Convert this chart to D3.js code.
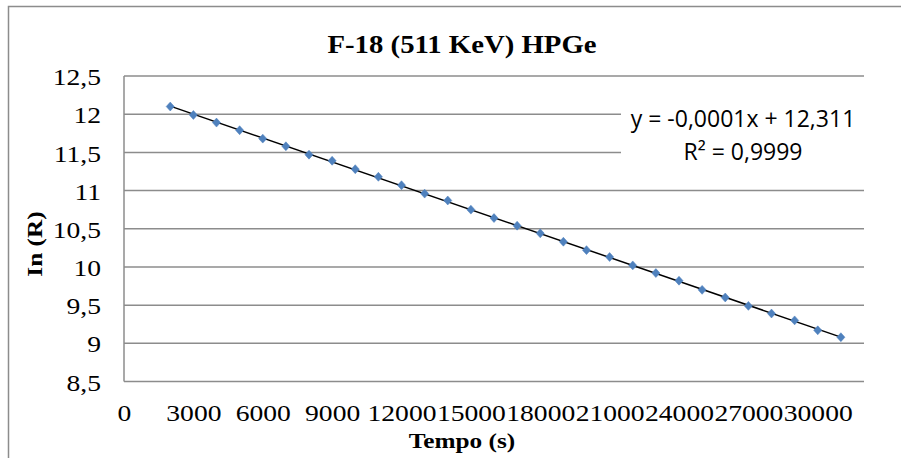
<!DOCTYPE html>
<html>
<head>
<meta charset="utf-8">
<script src="https://cdn.jsdelivr.net/npm/d3@7"></script>
<style>
  body { margin: 0; background: #fff; }
  svg { display: block; }
</style>
</head>
<body>
<svg id="chart"></svg>
<script>
// time (s) and ln of the count rate
const tempo = [2000, 3000, 4000, 5000, 6000, 7000, 8000, 9000, 10000, 11000,
  12000, 13000, 14000, 15000, 16000, 17000, 18000, 19000, 20000, 21000,
  22000, 23000, 24000, 25000, 26000, 27000, 28000, 29000, 30000, 31000];
const lnR = [12.10, 11.99, 11.89, 11.79, 11.68, 11.58, 11.47, 11.39, 11.28, 11.18,
  11.07, 10.96, 10.87, 10.75, 10.64, 10.54, 10.44, 10.33, 10.22, 10.13,
  10.02, 9.92, 9.82, 9.70, 9.60, 9.49, 9.39, 9.30, 9.17, 9.08];
const xTicks = [0, 3000, 6000, 9000, 12000, 15000, 18000, 21000, 24000, 27000, 30000];
const yTicks = [8.5, 9, 9.5, 10, 10.5, 11, 11.5, 12, 12.5];
const eqLines = ['y = -0,0001x + 12,311', 'R² = 0,9999'];

const W = 901, H = 458;
const plot = { left: 124, top: 76, right: 864, bottom: 381.5 };
const serif = '"Liberation Serif", "Times New Roman", serif';
const stretch = 1.15;

const svg = d3.select('#chart').attr('width', W).attr('height', H);

const x = d3.scaleLinear().domain([0, 32000]).range([plot.left, plot.right]);
const y = d3.scaleLinear().domain([8.5, 12.5]).range([plot.bottom, plot.top]);

const comma = d => String(d).replace('.', ',');

// outer chart frame
svg.append('rect')
  .attr('x', 8.5).attr('y', 6.5)
  .attr('width', W).attr('height', H)
  .attr('fill', 'none').attr('stroke', '#8c8c8c').attr('stroke-width', 1.5);

// gridlines
svg.append('g')
  .selectAll('line')
  .data(yTicks)
  .enter().append('line')
  .attr('x1', plot.left).attr('x2', plot.right)
  .attr('y1', d => y(d)).attr('y2', d => y(d))
  .attr('stroke', '#8c8c8c').attr('stroke-width', 1.5);

svg.append('line')
  .attr('x1', plot.left).attr('x2', plot.left)
  .attr('y1', plot.top).attr('y2', plot.bottom)
  .attr('stroke', '#8c8c8c').attr('stroke-width', 1.5);

// y axis
const yAxis = svg.append('g')
  .attr('transform', `translate(${plot.left},0)`)
  .call(d3.axisLeft(y).tickValues(yTicks).tickSize(0).tickPadding(23).tickFormat(comma));
yAxis.select('.domain').remove();
yAxis.selectAll('text')
  .attr('font-family', serif).attr('font-size', 24).attr('fill', '#000')
  .attr('transform', `scale(${stretch},1)`)
  .attr('x', -23 / stretch)
  .attr('dy', '0.36em');

// x axis
const xAxis = svg.append('g')
  .attr('transform', `translate(0,${plot.bottom})`)
  .call(d3.axisBottom(x).tickValues(xTicks).tickSize(0).tickPadding(22).tickFormat(d => d));
xAxis.select('.domain').remove();
xAxis.selectAll('.tick text')
  .attr('font-family', serif).attr('font-size', 24).attr('fill', '#000')
  .attr('transform', `scale(${stretch},1)`);

// trendline from least squares on the data
const n = tempo.length;
const mx = d3.mean(tempo), my = d3.mean(lnR);
const slope = d3.sum(tempo, (t, i) => (t - mx) * (lnR[i] - my)) / d3.sum(tempo, t => (t - mx) ** 2);
const icpt = my - slope * mx;
const x0 = tempo[0], x1 = tempo[n - 1];
svg.append('line')
  .attr('x1', x(x0)).attr('y1', y(icpt + slope * x0))
  .attr('x2', x(x1)).attr('y2', y(icpt + slope * x1))
  .attr('stroke', '#000').attr('stroke-width', 1.5);

// markers
svg.append('g')
  .selectAll('path')
  .data(tempo)
  .enter().append('path')
  .attr('d', d3.symbol(d3.symbolDiamond2, 42))
  .attr('transform', (d, i) => `translate(${x(d)},${y(lnR[i])}) scale(1,1.1)`)
  .attr('fill', '#4f81bd')
  .attr('stroke', '#4f81bd').attr('stroke-width', 0.5);

// equation label
const eq = svg.append('g');
eq.append('rect')
  .attr('x', 621).attr('y', 100).attr('width', 280).attr('height', 70)
  .attr('fill', '#fff');
eq.selectAll('text')
  .data(eqLines)
  .enter().append('text')
  .attr('x', 743).attr('y', (d, i) => 127 + i * 33)
  .attr('text-anchor', 'middle')
  .attr('font-family', '"Open Sans", sans-serif')
  .attr('font-size', 23)
  .attr('fill', '#000')
  .text(d => d);

// titles
svg.append('text')
  .attr('transform', `translate(462,53) scale(${stretch},1)`)
  .attr('text-anchor', 'middle')
  .attr('font-family', serif).attr('font-weight', 'bold').attr('font-size', 25)
  .text('F-18 (511 KeV) HPGe');

svg.append('text')
  .attr('transform', `translate(462,448) scale(${stretch},1)`)
  .attr('text-anchor', 'middle')
  .attr('font-family', serif).attr('font-weight', 'bold').attr('font-size', 22)
  .text('Tempo (s)');

svg.append('text')
  .attr('transform', `translate(42,244) rotate(-90) scale(${stretch},1)`)
  .attr('text-anchor', 'middle')
  .attr('font-family', serif).attr('font-weight', 'bold').attr('font-size', 22)
  .text('In (R)');
</script>
</body>
</html>
